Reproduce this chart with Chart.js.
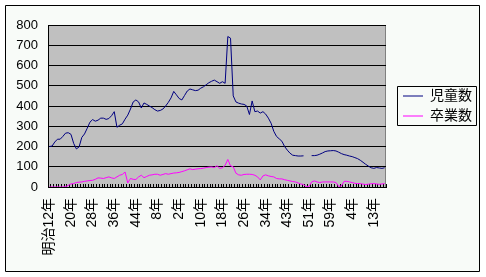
<!DOCTYPE html>
<html><head><meta charset="utf-8">
<script src="https://cdn.jsdelivr.net/npm/chart.js@4/dist/chart.umd.min.js"></script>
<style>html,body{margin:0;padding:0;background:#fff}</style>
</head><body><canvas id="c" width="486" height="277"></canvas>
<script>
// categories (年): one entry per record year
const categories = [
 "明治12年","13年","14年","15年","16年","17年","18年","19年","20年","21年",
 "22年","23年","24年","25年","26年","27年","28年","29年","30年","31年",
 "32年","33年","34年","35年","36年","37年","38年","39年","40年","41年",
 "42年","43年","44年","大正元年","2年","3年","4年","5年","6年","7年",
 "8年","9年","10年","11年","12年","13年","14年","昭和元年","2年","3年",
 "4年","5年","6年","7年","8年","9年","10年","11年","12年","13年",
 "14年","15年","16年","17年","18年","19年","20年","21年","22年","23年",
 "24年","25年","26年","27年","28年","29年","30年","31年","32年","33年",
 "34年","35年","36年","37年","38年","39年","41年","42年","43年","44年",
 "45年","46年","47年","48年","49年","50年","51年","52年","53年","54年",
 "55年","56年","57年","58年","59年","60年","61年","62年","63年","平成元年",
 "2年","3年","4年","5年","6年","8年","9年","10年","11年","12年",
 "13年","14年","15年","16年","17年"
];
// 児童数
const jidouSu = [
 200,202,222,236,236,250,266,268,260,215,
 188,198,245,262,290,320,333,325,330,340,
 340,334,338,352,372,295,305,312,335,355,
 385,420,430,420,390,415,408,400,392,382,
 375,378,385,400,418,440,472,455,437,430,
 452,474,484,480,476,478,488,495,505,515,
 522,528,520,512,520,512,743,735,450,420,
 414,410,408,400,358,425,372,375,365,372,
 360,340,315,275,250,238,226,200,182,167,
 157,155,153,153,154,null,null,155,155,157,
 162,168,175,178,179,180,178,172,165,160,
 157,153,150,145,140,132,122,112,103,95,
 92,96,94,92,95
];
// 卒業数
const sotsugyouSu = [
 0,0,0,0,0,0,2,8,15,17,
 22,24,25,28,30,32,33,38,45,44,
 42,46,50,45,42,50,58,62,74,20,
 42,38,37,50,58,46,52,58,60,63,
 63,58,62,66,63,66,69,70,72,76,
 80,85,90,86,88,90,91,93,96,98,
 99,96,105,92,95,107,136,104,100,68,
 60,58,62,63,63,62,58,50,35,55,
 60,55,52,50,42,40,40,36,33,30,
 27,25,20,15,12,2,2,25,30,25,
 22,25,25,25,25,25,22,3,5,28,
 28,25,22,18,17,17,14,12,14,16,
 17,15,13,15,17
];
const seriesNames = ["児童数","卒業数"];
const yMin = 0, yMax = 800, yStep = 100;
const labelEvery = 8;

const FONT = '"Liberation Sans", "Noto Sans CJK JP", sans-serif';
const LEGEND_WIDTH = 85;

const framePlugin = {
  id: 'frame',
  beforeLayout(chart) {
    const lg = chart.legend;
    if (lg && !lg.__fixedWidth) {
      const orig = lg.fit;
      lg.fit = function () { orig.call(this); this.width = LEGEND_WIDTH; };
      lg.__fixedWidth = true;
    }
  },
  beforeDraw(chart) {
    const {ctx, chartArea: a} = chart;
    ctx.save();
    ctx.fillStyle = '#ffffff';
    ctx.fillRect(0, 0, chart.width, chart.height);
    ctx.fillStyle = '#f8fbf8';
    ctx.fillRect(5, 5, 475, 267);
    ctx.strokeStyle = '#000000';
    ctx.lineWidth = 1;
    ctx.beginPath();
    ctx.rect(5.5, 5.5, 474, 266);
    ctx.stroke();
    ctx.fillStyle = '#c0c0c0';
    ctx.fillRect(a.left, a.top, a.right - a.left, a.bottom - a.top);
    ctx.strokeStyle = '#808080';
    ctx.beginPath();
    ctx.rect(Math.round(a.left) + 0.5, Math.round(a.top) + 0.5,
             Math.round(a.right - a.left) - 1, Math.round(a.bottom - a.top));
    ctx.stroke();
    ctx.restore();
  },
  afterDraw(chart) {
    const lg = chart.legend;
    if (!lg) return;
    const ctx = chart.ctx;
    const cy = (lg.top + lg.bottom) / 2;
    const x0 = Math.round(lg.left) + 0.5;
    const x1 = Math.round(lg.left + 79) + 0.5;
    const y0 = Math.round(cy - 20) + 0.5;
    const y1 = Math.round(cy + 19) + 0.5;
    ctx.save();
    ctx.strokeStyle = '#000000';
    ctx.lineWidth = 1;
    ctx.setLineDash([]);
    ctx.beginPath();
    ctx.rect(x0, y0, x1 - x0, y1 - y0);
    ctx.stroke();
    ctx.restore();
  }
};

new Chart(document.getElementById('c'), {
  type: 'line',
  data: {
    labels: categories,
    datasets: [
      {label: seriesNames[0], data: jidouSu, borderColor: '#000080', backgroundColor: '#000080', borderWidth: 1, pointRadius: 0, tension: 0, fill: false},
      {label: seriesNames[1], data: sotsugyouSu, borderColor: '#ff00ff', backgroundColor: '#ff00ff', borderWidth: 1, pointRadius: 0, tension: 0, fill: false}
    ]
  },
  options: {
    responsive: false,
    animation: false,
    devicePixelRatio: 1,
    layout: {padding: {left: 8, right: 4, top: 25, bottom: 0}},
    plugins: {
      tooltip: {enabled: false},
      legend: {
        position: 'right',
        fullSize: false,
        align: 'center',
        labels: {
          usePointStyle: true,
          pointStyle: 'line',
          pointStyleWidth: 20,
          padding: 6,
          color: '#000',
          font: {size: 14, family: FONT}
        }
      }
    },
    scales: {
      x: {
        type: 'category',
        offset: true,
        grid: {offset: true, drawOnChartArea: false, drawTicks: true, tickLength: -3, color: '#000'},
        border: {color: '#000', width: 1},
        ticks: {
          autoSkip: false, maxRotation: 90, minRotation: 90, padding: 14,
          color: '#000', font: {size: 14, family: FONT},
          callback: (v, i) => (i % labelEvery === 0 ? categories[i] : '')
        },
        afterFit: s => { s.height = 90; }
      },
      y: {
        min: yMin, max: yMax,
        ticks: {stepSize: yStep, padding: 10, color: '#000', font: {size: 13, family: FONT}},
        grid: {color: '#000', drawTicks: false},
        border: {color: '#000', width: 1},
        afterFit: s => { s.width = 40; }
      },
      spacer: {
        type: 'linear', position: 'right', display: true,
        grid: {display: false}, ticks: {display: false}, border: {display: false},
        afterFit: s => { s.width = 11; }
      }
    }
  },
  plugins: [framePlugin]
});
</script>
</body></html>
